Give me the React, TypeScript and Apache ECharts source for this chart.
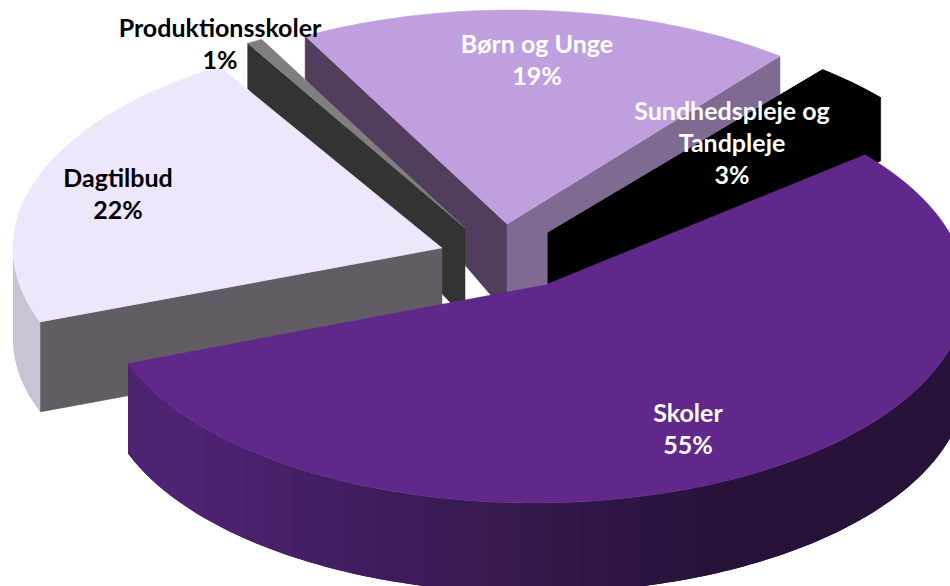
import React, { useEffect, useRef } from "react";
import * as echarts from "echarts";

const categories = ["Skoler", "Dagtilbud", "Produktionsskoler", "Børn og Unge", "Sundhedspleje og Tandpleje"];
const values = [55, 22, 1, 19, 3];
const percentLabels = ["55%", "22%", "1%", "19%", "3%"];
const labelLines = [["Skoler", "55%"], ["Dagtilbud", "22%"], ["Produktionsskoler", "1%"], ["Børn og Unge", "19%"], ["Sundhedspleje og", "Tandpleje", "3%"]];

// Layout tables (pixels), separate from the data
const START_DEG = -40;
const drawOrder = [3, 4, 2, 1, 0];
const sliceLayout = [
  { apex: [545, 285], c: [534, 291], a: 432, b: 212, dStart: 0, dEnd: 2 },
  { apex: [442, 248], c: [463, 248], a: 450, b: 216, dStart: 2, dEnd: 0 },
  { apex: [465, 228], c: [473, 217], a: 424, b: 205, dStart: 0.7, dEnd: -0.7 },
  { apex: [507, 224], c: [512, 215], a: 424, b: 205, dStart: 0, dEnd: 0 },
  { apex: [548, 233], c: [549, 234], a: 433, b: 212, dStart: 0, dEnd: 0 },
];
const sliceColors = [
  { top: "#60288a", startFace: null, endFace: null, wall: ["#28123a", "#4e2372"] },
  { top: "#eee6fa", startFace: "#625c64", endFace: null, wall: ["#c9c3d4", "#c9c3d4"] },
  { top: "#7f7f7f", startFace: "#333333", endFace: null, wall: null },
  { top: "#c09fde", startFace: "#503e5c", endFace: "#7f6a91", wall: null },
  { top: "#000000", startFace: "#000000", endFace: "#000000", wall: null },
];
const labelPos = [[688, 412], [118, 177], [220, 27], [537, 43], [732, 110]];
const labelColor = ["#ffffff", "#000000", "#000000", "#ffffff", "#ffffff"];
const LINE_H = 32;

const total = values.reduce((s, v) => s + v, 0);
const startAngles: number[] = [];
values.reduce((acc, v, i) => {
  startAngles[i] = acc;
  return acc + (v / total) * 360;
}, START_DEG);

const depthAt = (y: number) => Math.min(90, 31 + 0.33 * y);
const hex = (h: string) => [1, 3, 5].map((k) => parseInt(h.slice(k, k + 2), 16));
const mix = (p: string, q: string, t: number) => {
  const A = hex(p), B = hex(q);
  return `rgb(${A.map((v, i) => Math.round(v + (B[i] - v) * t)).join(",")})`;
};

function renderSlice(_params: any, api: any) {
  const idx = api.value(1);
  const v = api.value(0);
  const L = sliceLayout[idx];
  const C = sliceColors[idx];
  const t0 = startAngles[idx] + L.dStart;
  const t1 = startAngles[idx] + (v / total) * 360 + L.dEnd;
  const rim = (deg: number) => {
    const r = (deg * Math.PI) / 180;
    return [L.c[0] + L.a * Math.cos(r), L.c[1] + L.b * Math.sin(r)];
  };
  const drop = (p: number[]) => [p[0], p[1] + depthAt(p[1])];
  const children: any[] = [];
  const poly = (points: number[][], fill: string, lw = 0.5) =>
    children.push({ type: "polygon", shape: { points }, style: { fill, stroke: lw ? fill : "none", lineWidth: lw } });

  if (C.startFace) {
    const p = rim(t0);
    poly([L.apex, p, drop(p), drop(L.apex)], C.startFace);
  }
  if (C.endFace) {
    const p = rim(t1);
    poly([L.apex, p, drop(p), drop(L.apex)], C.endFace);
  }
  if (C.wall) {
    const step = 4;
    // painted from the dark right side to the left, each band overlapping the next one
    for (let t = Math.max(t0, 0); t < Math.min(t1, 180); t += step) {
      const pts: number[][] = [];
      const e = Math.min(t + step * 2, t1, 180);
      for (let s = t; s < e; s += 1) pts.push(rim(s));
      pts.push(rim(e));
      const mid = rim(t);
      const u = Math.min(1, Math.max(0, (mid[0] - 720) / (200 - 720)));
      poly([...pts, ...pts.map(drop).reverse()], mix(C.wall[0], C.wall[1], u), 0);
    }
  }
  const top: number[][] = [L.apex];
  for (let t = t0; t < t1; t += 1) top.push(rim(t));
  top.push(rim(t1));
  poly(top, C.top, idx === 4 ? 1 : 0.5);
  return { type: "group", children };
}

function renderLabel(_params: any, api: any) {
  const idx = api.value(1);
  const [x, y] = labelPos[idx];
  return {
    type: "group",
    children: labelLines[idx].map((line, k) => ({
      type: "text",
      style: {
        x,
        y: y + k * LINE_H,
        text: line,
        fill: labelColor[idx],
        font: 'bold 25px Lato, "Open Sans", sans-serif',
        textAlign: "center",
        textVerticalAlign: "middle",
      },
    })),
  };
}

export default function App() {
  const ref = useRef<HTMLDivElement>(null);
  useEffect(() => {
    const chart = echarts.init(ref.current!, null, { renderer: "svg" });
    chart.setOption({
      animation: false,
      backgroundColor: "#ffffff",
      series: [
        {
          type: "custom",
          coordinateSystem: "none",
          renderItem: renderSlice,
          silent: true,
          clip: false,
          data: drawOrder.map((i) => ({ name: categories[i], value: [values[i], i] })),
        },
        {
          type: "custom",
          coordinateSystem: "none",
          renderItem: renderLabel,
          silent: true,
          z: 5,
          data: values.map((v, i) => ({ name: percentLabels[i], value: [v, i] })),
        },
      ],
    });
    return () => chart.dispose();
  }, []);
  return <div ref={ref} style={{ position: "absolute", left: 0, top: 0, width: 950, height: 586, overflow: "hidden" }} />;
}
